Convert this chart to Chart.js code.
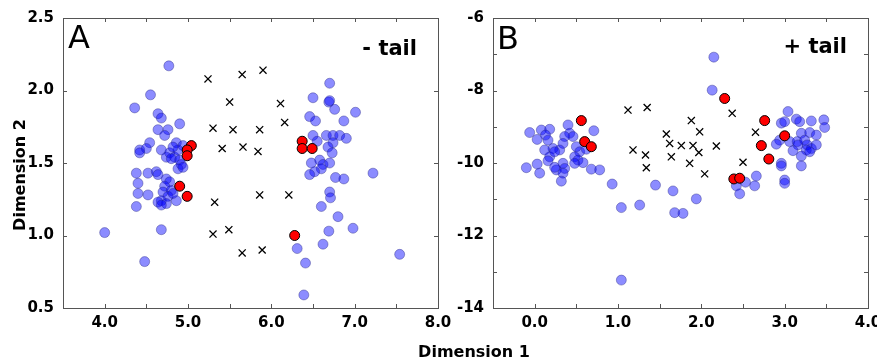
<!DOCTYPE html>
<html>
<head>
<meta charset="utf-8">
<script src="https://cdn.jsdelivr.net/npm/chart.js@4.4.1/dist/chart.umd.min.js"></script>
<style>
  body { margin: 0; background: #fff; }
  #wrap { position: relative; width: 877px; height: 360px; }
  canvas { position: absolute; left: 0; top: 0; }
</style>
</head>
<body>
<div id="wrap">
  <canvas id="chartA" width="877" height="360"></canvas>
  <canvas id="chartB" width="877" height="360"></canvas>
</div>
<script>
// panel A (- tail)
const blueA = [
  [4.77,2.17],[4.55,1.97],[4.36,1.88],[4.64,1.84],[4.68,1.81],[4.90,1.77],[4.64,1.73],[4.76,1.73],
  [4.72,1.69],[4.86,1.64],[4.94,1.62],[4.42,1.59],[4.54,1.64],[4.50,1.60],[4.42,1.57],[4.68,1.59],
  [4.74,1.54],[4.78,1.57],[4.84,1.54],[4.80,1.53],[4.88,1.59],[4.90,1.52],[4.82,1.61],[4.92,1.49],
  [4.88,1.46],[4.94,1.47],[4.38,1.43],[4.52,1.43],[4.62,1.44],[4.64,1.42],[4.40,1.36],[4.40,1.29],
  [4.52,1.28],[4.38,1.20],[4.74,1.39],[4.78,1.37],[4.72,1.34],[4.70,1.30],[4.80,1.31],[4.76,1.27],
  [4.68,1.24],[4.64,1.23],[4.74,1.22],[4.68,1.21],[4.86,1.24],[4.82,1.29],[4.00,1.02],[4.68,1.04],
  [4.48,0.82],
  [6.70,2.05],[6.50,1.95],[6.69,1.92],[6.70,1.93],[6.76,1.87],[7.01,1.85],[6.46,1.82],[6.53,1.79],
  [6.87,1.79],[6.50,1.69],[6.55,1.65],[6.66,1.69],[6.74,1.69],[6.82,1.69],[6.90,1.67],[6.74,1.64],
  [6.68,1.61],[6.73,1.57],[6.48,1.50],[6.58,1.52],[6.62,1.49],[6.70,1.50],[6.60,1.46],[6.52,1.44],
  [6.46,1.42],[6.77,1.40],[6.87,1.39],[7.22,1.43],[6.70,1.30],[6.71,1.26],[6.60,1.20],[6.80,1.13],
  [6.98,1.05],[6.69,1.03],[6.62,0.94],[6.31,0.91],[6.41,0.81],[7.54,0.87],[6.39,0.59]
];
const crossA = [
  [5.24,2.08],[5.65,2.11],[5.90,2.14],[5.50,1.92],[6.11,1.91],[5.30,1.74],[5.54,1.73],[5.86,1.73],
  [6.16,1.78],[5.41,1.60],[5.66,1.61],[5.84,1.58],[5.32,1.23],[5.86,1.28],[6.21,1.28],[5.30,1.01],
  [5.49,1.04],[5.65,0.88],[5.89,0.90]
];
const redA = [
  [5.04,1.62],[4.99,1.59],[4.99,1.55],[4.90,1.34],[4.99,1.27],[6.37,1.65],[6.37,1.60],[6.49,1.60],
  [6.28,1.00]
];

// panel B (+ tail)
const blueB = [
  [-0.06,-9.16],[0.08,-9.09],[0.18,-9.07],[0.13,-9.23],[0.16,-9.37],[0.03,-9.35],[0.40,-8.95],
  [0.42,-9.18],[0.46,-9.27],[0.71,-9.11],[0.36,-9.27],[0.34,-9.46],[0.30,-9.64],[0.22,-9.60],
  [0.12,-9.64],[0.18,-9.83],[0.16,-9.94],[0.24,-9.69],[0.50,-9.55],[0.54,-9.69],[0.48,-9.83],
  [0.52,-9.92],[0.48,-10.01],[0.58,-9.99],[0.62,-9.62],[0.34,-10.01],[0.36,-10.15],[0.26,-10.19],
  [0.24,-10.12],[0.34,-10.28],[0.03,-10.03],[0.06,-10.28],[-0.10,-10.13],[0.68,-10.17],
  [0.78,-10.19],[0.32,-10.50],[0.93,-10.58],
  [1.45,-10.61],[1.66,-10.77],[1.04,-11.23],[1.26,-11.16],[1.94,-10.99],[1.68,-11.37],
  [1.78,-11.39],[1.04,-13.23],[2.15,-7.08],[2.13,-7.99],
  [3.04,-8.58],[2.96,-8.90],[3.00,-8.86],[3.14,-8.79],[3.18,-8.86],[3.32,-8.84],[3.47,-8.81],
  [3.48,-9.02],[3.20,-9.18],[3.30,-9.16],[3.38,-9.23],[2.94,-9.37],[2.90,-9.48],[3.06,-9.41],
  [3.15,-9.41],[3.16,-9.50],[3.24,-9.37],[3.27,-9.50],[3.32,-9.60],[3.38,-9.50],[3.26,-9.64],
  [3.10,-9.66],[3.20,-9.81],[3.30,-9.69],[3.20,-10.08],[2.96,-10.01],[2.96,-10.08],[3.00,-10.47],
  [3.00,-10.56],[2.66,-10.36],[2.64,-10.63],[2.42,-10.63],[2.46,-10.85],[2.53,-10.53]
];
const crossB = [
  [1.12,-8.54],[1.35,-8.47],[2.37,-8.63],[1.88,-8.83],[1.98,-9.14],[1.58,-9.20],[1.62,-9.46],
  [1.76,-9.52],[1.90,-9.52],[1.97,-9.71],[2.18,-9.53],[1.18,-9.64],[1.33,-9.78],[1.64,-9.83],
  [1.86,-10.01],[1.34,-10.13],[2.04,-10.30],[2.50,-9.98],[2.65,-9.15]
];
const redB = [
  [0.56,-8.83],[0.60,-9.41],[0.68,-9.55],[2.28,-8.22],[2.76,-8.83],[3.00,-9.25],[2.72,-9.52],
  [2.81,-9.89],[2.39,-10.44],[2.46,-10.42]
];

const FONT = "'DejaVu Sans', sans-serif";
const toXY = (arr) => arr.map(p => ({ x: p[0], y: p[1] }));

// frame box + inward tick marks on all four sides
const framePlugin = {
  id: "frame",
  afterDraw(chart) {
    const ctx = chart.ctx;
    const a = chart.chartArea;
    ctx.save();
    ctx.strokeStyle = "#555";
    ctx.lineWidth = 1;
    ctx.beginPath();
    for (const t of chart.scales.x.ticks) {
      const px = Math.round(chart.scales.x.getPixelForValue(t.value)) + 0.5;
      ctx.moveTo(px, a.bottom); ctx.lineTo(px, a.bottom - 4);
      ctx.moveTo(px, a.top); ctx.lineTo(px, a.top + 4);
    }
    for (const t of chart.scales.y.ticks) {
      const py = Math.round(chart.scales.y.getPixelForValue(t.value)) + 0.5;
      ctx.moveTo(a.left, py); ctx.lineTo(a.left + 4, py);
      ctx.moveTo(a.right, py); ctx.lineTo(a.right - 4, py);
    }
    ctx.stroke();
    ctx.strokeRect(Math.round(a.left) + 0.5, Math.round(a.top) + 0.5,
      Math.round(a.right - a.left), Math.round(a.bottom - a.top));
    ctx.restore();
  }
};

// panel letters, tail labels and axis titles
const textPlugin = {
  id: "panelText",
  afterDraw(chart, args, opts) {
    const ctx = chart.ctx;
    ctx.save();
    ctx.fillStyle = "#000";
    ctx.textBaseline = "alphabetic";
    ctx.font = "32px " + FONT;
    ctx.textAlign = "left";
    ctx.fillText(opts.letter, opts.letterX, opts.letterY);
    ctx.font = "bold 21px " + FONT;
    ctx.textAlign = "right";
    ctx.fillText(opts.tail, opts.tailX, opts.tailY);
    if (opts.titles) {
      ctx.font = "bold 16px " + FONT;
      ctx.textAlign = "center";
      ctx.fillText("Dimension 1", 474, 357);
      ctx.translate(25, 175);
      ctx.rotate(-Math.PI / 2);
      ctx.fillText("Dimension 2", 0, 0);
    }
    ctx.restore();
  }
};

function makeChart(id, p) {
  const ctx = document.getElementById(id).getContext("2d");
  return new Chart(ctx, {
    type: "scatter",
    data: {
      datasets: [
        {
          data: toXY(p.red),
          backgroundColor: "#ff0000",
          borderColor: "#000",
          borderWidth: 1,
          pointRadius: 5,
          order: 0,
        },
        {
          data: toXY(p.cross),
          pointStyle: "crossRot",
          borderColor: "#000",
          borderWidth: 1.3,
          pointRadius: 5,
          order: 1,
        },
        {
          data: toXY(p.blue),
          backgroundColor: "rgba(0,0,255,0.45)",
          borderColor: "rgba(40,40,130,0.4)",
          borderWidth: 1,
          pointRadius: 5,
          order: 2,
        },
      ],
    },
    options: {
      responsive: false,
      animation: false,
      devicePixelRatio: 1,
      layout: {
        padding: p.padding,
      },
      plugins: {
        legend: { display: false },
        tooltip: { enabled: false },
        panelText: p.text,
      },
      scales: {
        x: {
          type: "linear",
          min: p.xMin,
          max: p.xMax,
          grid: { display: false, drawTicks: false },
          border: { display: false },
          ticks: {
            stepSize: 0.5,
            padding: 6,
            color: "#000",
            maxRotation: 0,
            autoSkip: false,
            font: { family: FONT, size: 15, weight: "bold" },
            callback: (v) => Math.abs(v - Math.round(v)) < 1e-6 ? (Math.round(v) + 0).toFixed(1) : "",
          },
          afterFit: (s) => { s.height = 52; s.paddingLeft = 0; s.paddingRight = 0; },
        },
        y: {
          type: "linear",
          min: p.yMin,
          max: p.yMax,
          grid: { display: false, drawTicks: false },
          border: { display: false },
          ticks: {
            stepSize: p.yStep,
            padding: 9,
            color: "#000",
            autoSkip: false,
            font: { family: FONT, size: 15, weight: "bold" },
            callback: p.yLabel,
          },
          afterFit: (s) => { s.width = p.yWidth; s.paddingTop = 0; s.paddingBottom = 0; },
        },
      },
    },
    plugins: [framePlugin, textPlugin],
  });
}

makeChart("chartA", {
  blue: blueA, cross: crossA, red: redA,
  xMin: 3.5, xMax: 8.0, yMin: 0.5, yMax: 2.5, yStep: 0.5,
  yLabel: (v) => v.toFixed(1),
  yWidth: 63,
  padding: { left: 0, top: 18, right: 439, bottom: 0 },
  text: { letter: "A", letterX: 68, letterY: 48, tail: "- tail", tailX: 417, tailY: 55, titles: true },
});

makeChart("chartB", {
  blue: blueB, cross: crossB, red: redB,
  xMin: -0.5, xMax: 4.0, yMin: -14, yMax: -6, yStep: 1,
  yLabel: (v) => Math.round(v) % 2 === 0 ? String(Math.round(v)) : "",
  yWidth: 53,
  padding: { left: 440, top: 18, right: 9, bottom: 0 },
  text: { letter: "B", letterX: 497, letterY: 49, tail: "+ tail", tailX: 847, tailY: 53, titles: false },
});
</script>
</body>
</html>
